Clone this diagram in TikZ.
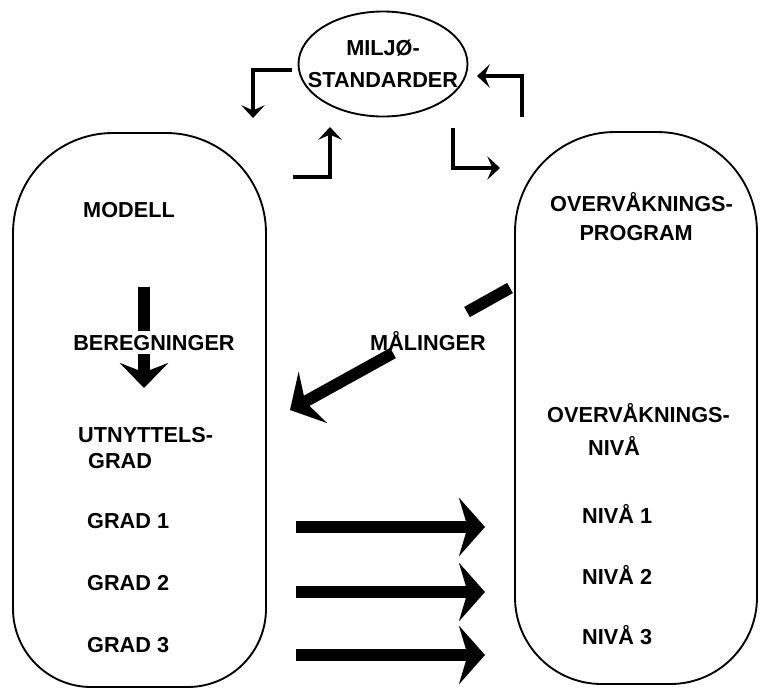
\documentclass[tikz,border=0pt]{standalone}
\usepackage{fontspec}
\setmainfont{Liberation Sans}
\usetikzlibrary{arrows.meta,shapes.geometric,positioning}

\tikzstyle{term} = [font=\bfseries\fontsize{18.5}{22}\selectfont, inner sep=0pt, align=left]
\tikzstyle{boxline} = [draw=black, line width=1.6pt]
\tikzstyle{loopbox} = [ellipse, draw=black, line width=1.6pt, minimum width=5.07cm, minimum height=3.15cm, inner sep=0pt]
\tikzstyle{thinarrow} = [line width=3.8pt, -{Stealth[length=0.38cm,width=0.7cm,inset=0.15cm]}]
\tikzstyle{barline} = [line width=10pt]
\tikzstyle{bararrow} = [barline, -{Stealth[length=0.78cm,width=1.75cm,inset=0.26cm]}]
\tikzstyle{calcarrow} = [barline, -{Stealth[length=0.75cm,width=1.45cm,inset=0.28cm]}]

\begin{document}
\begin{tikzpicture}[x=0.03cm, y=-0.03cm, node distance=1.86cm]
	\useasboundingbox (0,0) rectangle (760,688);

	% the two big boxes
	\draw [boxline] (13,410) [rounded corners=3cm] -- (13,133) -- (266,133) -- (266,410)
		[rounded corners=2.35cm] -- (266,687) -- (13,687) -- cycle;
	\draw [boxline] (515,410) [rounded corners=3cm] -- (515,132) -- (757,132) -- (757,410)
		[rounded corners=2.6cm] -- (757,684) -- (515,684) -- cycle;

	% ellipse on top
	\node (miljo) [loopbox] at (383,64) {};
	\node (miljotext) [term, align=center] at (miljo) {MILJØ-\\[5pt]STANDARDER};

	% arrows round the ellipse
	\coordinate (l1a) at (292,70);
	\coordinate (l1b) at (253,118);
	\coordinate (l2a) at (293,177);
	\coordinate (l2b) at (330,127);
	\coordinate (l3a) at (522,117);
	\coordinate (l3b) at (477,76);
	\coordinate (l4a) at (453,128);
	\coordinate (l4b) at (500,168);
	\draw [thinarrow] (l1a) -| (l1b);
	\draw [thinarrow] (l2a) -| (l2b);
	\draw [thinarrow] (l3a) |- (l3b);
	\draw [thinarrow] (l4a) |- (l4b);

	% left box
	\coordinate (btop) at (144,287);
	\coordinate (bend) at (144,388);
	\draw [calcarrow] (btop) -- (bend);
	\node (modell) [term, anchor=base west] at (83,217) {MODELL};
	\node (beregn) [term, anchor=base west, fill=white, inner sep=3pt] at (69.5,350) {BEREGNINGER};
	\node (utnytt) [term, anchor=base west] at (78,468) {UTNYTTELS-\\\hspace*{8.5pt}GRAD};
	\node (grad1) [term, anchor=base west] at (87,528) {GRAD 1};
	\node (grad2) [term, below of=grad1] {GRAD 2};
	\node (grad3) [term, below of=grad2] {GRAD 3};

	% right box
	\node (overv) [term, anchor=base west] at (550,240) {OVERVÅKNINGS-\\[2pt]\hspace*{25pt}PROGRAM};
	\node (overvniva) [term, anchor=base west] at (547,455) {OVERVÅKNINGS-\\[6pt]\hspace*{35pt}NIVÅ};
	\node (niva1) [term, anchor=base west] at (582,523) {NIVÅ 1};
	\node (niva2) [term, below of=niva1, node distance=1.83cm] {NIVÅ 2};
	\node (niva3) [term, below of=niva2, node distance=1.83cm] {NIVÅ 3};

	% measurements
	\node (malinger) [term, anchor=base west] at (370,350) {MÅLINGER};
	\coordinate (m1) at (510,288);
	\coordinate (m2) at (467,312);
	\coordinate (m3) at (393,353);
	\coordinate (m4) at (290,410);
	\draw [barline] (m1) -- (m2);
	\draw [bararrow] (m3) -- (m4);

	% grad to niva
	\coordinate (a1) at (296,527);
	\coordinate (b1) at (485,527);
	\coordinate (a2) at (296,592);
	\coordinate (b2) at (485,592);
	\coordinate (a3) at (296,655);
	\coordinate (b3) at (485,655);
	\draw [bararrow] (a1) -- (b1);
	\draw [bararrow] (a2) -- (b2);
	\draw [bararrow] (a3) -- (b3);
\end{tikzpicture}
\end{document}
